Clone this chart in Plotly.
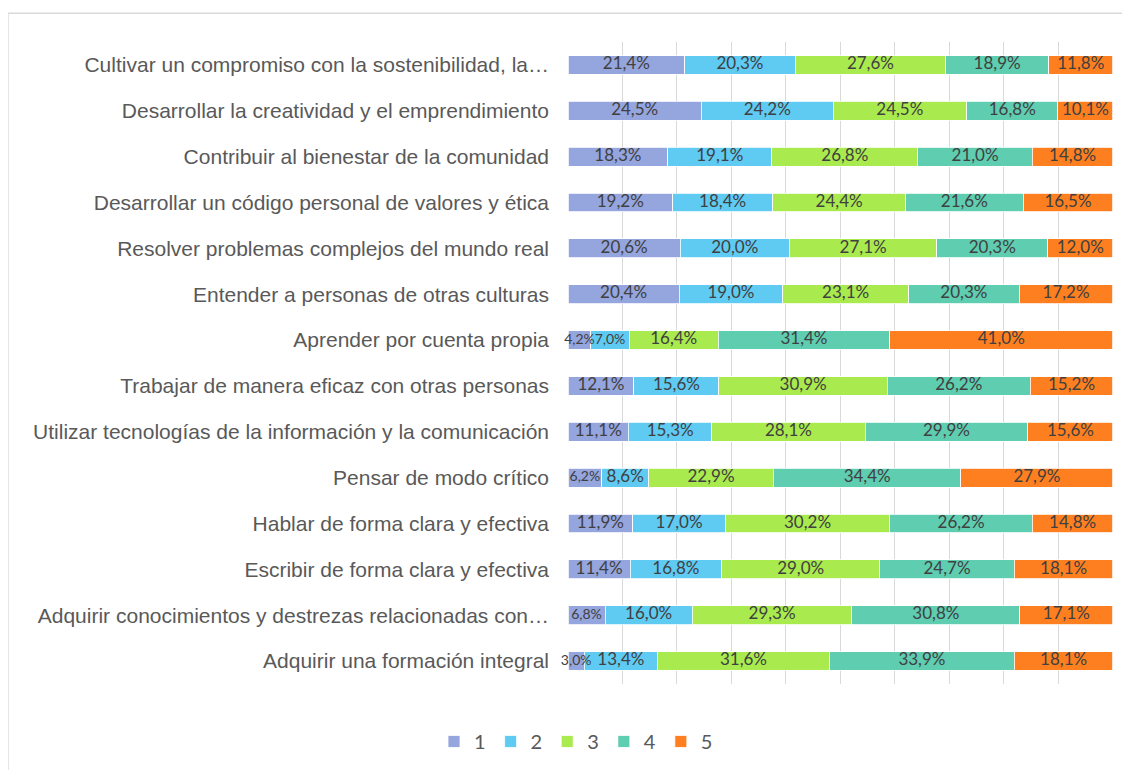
import plotly.graph_objects as go

categories = [
    "Cultivar un compromiso con la sostenibilidad, la…",
    "Desarrollar la creatividad y el emprendimiento",
    "Contribuir al bienestar de la comunidad",
    "Desarrollar un código personal de valores y ética",
    "Resolver problemas complejos del mundo real",
    "Entender a personas de otras culturas",
    "Aprender por cuenta propia",
    "Trabajar de manera eficaz con otras personas",
    "Utilizar tecnologías de la información y la comunicación",
    "Pensar de modo crítico",
    "Hablar de forma clara y efectiva",
    "Escribir de forma clara y efectiva",
    "Adquirir conocimientos y destrezas relacionadas con…",
    "Adquirir una formación integral",
]

s1 = [21.4, 24.5, 18.3, 19.2, 20.6, 20.4, 4.2, 12.1, 11.1, 6.2, 11.9, 11.4, 6.8, 3.0]
s2 = [20.3, 24.2, 19.1, 18.4, 20.0, 19.0, 7.0, 15.6, 15.3, 8.6, 17.0, 16.8, 16.0, 13.4]
s3 = [27.6, 24.5, 26.8, 24.4, 27.1, 23.1, 16.4, 30.9, 28.1, 22.9, 30.2, 29.0, 29.3, 31.6]
s4 = [18.9, 16.8, 21.0, 21.6, 20.3, 20.3, 31.4, 26.2, 29.9, 34.4, 26.2, 24.7, 30.8, 33.9]
s5 = [11.8, 10.1, 14.8, 16.5, 12.0, 17.2, 41.0, 15.2, 15.6, 27.9, 14.8, 18.1, 17.1, 18.1]

series_names = ["1", "2", "3", "4", "5"]
series_values = [s1, s2, s3, s4, s5]
colors = ["#95A5DE", "#5FCBF3", "#A9EA4F", "#5ECDB0", "#FE7F20"]

fig = go.Figure()
for name, vals, col in zip(series_names, series_values, colors):
    fig.add_trace(go.Bar(
        y=categories, x=vals, name=name, orientation="h",
        marker=dict(color=col, line=dict(color="white", width=0.8)),
        hoverinfo="skip",
    ))

# data labels: centred on each (normalised) segment, drawn above all bars
totals = [sum(row) for row in zip(*series_values)]
lab_x, lab_y, lab_t, lab_s = [], [], [], []
cum = [0.0] * len(categories)
for vals in series_values:
    for i, v in enumerate(vals):
        start = cum[i]
        cum[i] += v
        lab_x.append((start + v / 2) * 100 / totals[i])
        lab_y.append(categories[i])
        lab_t.append(f"{v:.1f}%".replace(".", ","))
        lab_s.append(14 if v < 8 else 17)

fig.add_trace(go.Scatter(
    x=lab_x, y=lab_y, text=lab_t, mode="text", showlegend=False,
    textposition="middle center", cliponaxis=False, hoverinfo="skip",
    textfont=dict(family="Lato, Carlito, sans-serif", size=lab_s, color="#404040"),
))

# body margin of the page is 8px; positions below are relative to the figure
OFF = 8
W, H = 1130 - 2 * OFF, 778 - 2 * OFF
L, T = 568 - OFF, 42 - OFF
R = W - (1113 - OFF)
B = H - (690 - OFF)
pw, ph = W - L - R, H - T - B

def px(xabs):
    return (xabs - OFF - L) / pw

def py(yabs):
    return (H - B - (yabs - OFF)) / ph

fig.update_layout(
    width=W, height=H,
    barmode="stack", barnorm="percent", bargap=0.59,
    margin=dict(l=L, r=R, t=T, b=B),
    paper_bgcolor="white", plot_bgcolor="white",
    xaxis=dict(range=[0, 100.01], tickvals=[0, 10, 20, 30, 40, 50, 60, 70, 80, 90, 100],
               showgrid=True, gridcolor="#D9D9D9",
               gridwidth=1.3, showticklabels=False, zeroline=False,
               showline=False, fixedrange=True),
    yaxis=dict(range=[len(categories) - 0.5, -0.5], autorange=False,
               showgrid=False, ticks="",
               ticklabelstandoff=18,
               tickfont=dict(family="Liberation Sans, Arial, sans-serif", size=21, color="#595959"),
               fixedrange=True),
    legend=dict(orientation="h", x=px(576), xanchor="center",
                y=py(748), yanchor="middle", traceorder="normal",
                font=dict(family="Lato, sans-serif", size=20, color="#595959"),
                itemwidth=30),
    showlegend=True,
    shapes=[dict(type="rect", xref="paper", yref="paper",
                 x0=px(8), x1=px(1140),
                 y0=py(790), y1=py(13),
                 line=dict(color="#D9D9D9", width=1.3), fillcolor="rgba(0,0,0,0)",
                 layer="below")],
)

fig.write_html("out.html")
